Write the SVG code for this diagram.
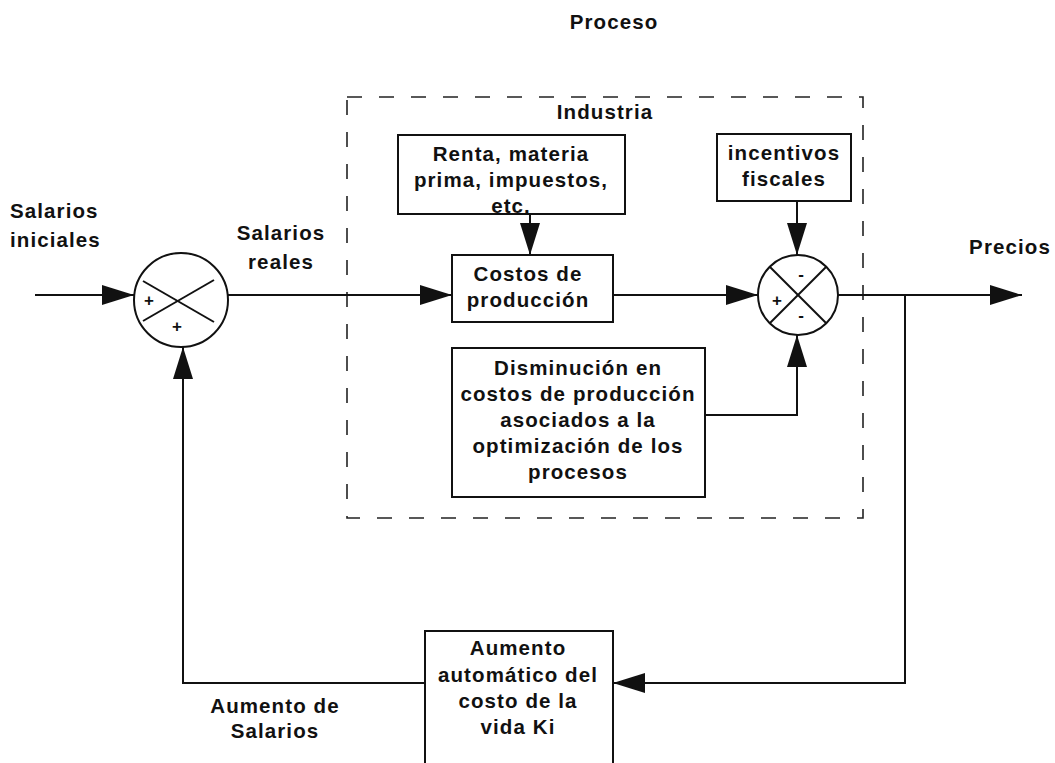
<svg xmlns="http://www.w3.org/2000/svg" width="1055" height="763" viewBox="0 0 1055 763">
<defs>
<marker id="arr" markerUnits="userSpaceOnUse" markerWidth="32" markerHeight="20" refX="32" refY="10" orient="auto">
<path d="M0,0 L32,10 L0,20 z" fill="#111"/>
</marker>
<style>
.t{font-family:"Liberation Sans",Arial,sans-serif;font-weight:bold;font-size:20.5px;fill:#111;text-anchor:middle;letter-spacing:1.1px}
.s{font-family:"Liberation Sans",Arial,sans-serif;font-weight:bold;font-size:17px;fill:#111;text-anchor:middle}
.box{fill:#fff;stroke:#111;stroke-width:2}
.ln{fill:none;stroke:#111;stroke-width:2}
.ar{fill:none;stroke:#111;stroke-width:2;marker-end:url(#arr)}
</style>
</defs>
<rect width="1055" height="763" fill="#fff"/>

<g id="industria">
<rect x="347" y="97" width="516" height="421" fill="none" stroke="#222" stroke-width="1.6" stroke-dasharray="15 17"/>
<text class="t" x="605" y="119">Industria</text>
</g>

<text class="t" x="614" y="29">Proceso</text>

<g id="connectors">
<line class="ar" x1="35" y1="295" x2="134" y2="295"/>
<line class="ar" x1="228" y1="295" x2="452" y2="295"/>
<line class="ar" x1="613" y1="295" x2="758" y2="295"/>
<line class="ar" x1="838" y1="295" x2="1022" y2="295"/>
<line class="ar" x1="530" y1="214" x2="530" y2="255"/>
<line class="ar" x1="797" y1="201" x2="797" y2="255"/>
<polyline class="ar" points="705,415 797,415 797,335"/>
<polyline class="ar" points="905,295 905,683 613,683"/>
<polyline class="ar" points="425,683 183,683 183,347"/>
</g>

<g id="sum1">
<circle cx="181" cy="300" r="47" fill="#fff" stroke="#111" stroke-width="2"/>
<line class="ln" x1="143" y1="281" x2="214" y2="322"/>
<line class="ln" x1="143" y1="321" x2="214" y2="280"/>
<text class="s" x="149" y="306">+</text>
<text class="s" x="177" y="332">+</text>
</g>

<g id="sum2">
<circle cx="798" cy="295" r="40" fill="#fff" stroke="#111" stroke-width="2"/>
<line class="ln" x1="770" y1="267" x2="826" y2="323"/>
<line class="ln" x1="770" y1="323" x2="826" y2="267"/>
<text class="s" x="801" y="280">-</text>
<text class="s" x="777" y="306">+</text>
<text class="s" x="801" y="321">-</text>
</g>

<g id="renta">
<rect class="box" x="398" y="135" width="227" height="79"/>
<text class="t" x="511" y="161">Renta, materia</text>
<text class="t" x="511" y="187">prima, impuestos,</text>
<text class="t" x="511" y="213">etc.</text>
</g>

<g id="incentivos">
<rect class="box" x="717" y="134" width="134" height="67"/>
<text class="t" x="784" y="160">incentivos</text>
<text class="t" x="784" y="186">fiscales</text>
</g>

<g id="costos">
<rect class="box" x="452" y="255" width="161" height="67"/>
<text class="t" x="528" y="281">Costos de</text>
<text class="t" x="528" y="307">producción</text>
</g>

<g id="disminucion">
<rect class="box" x="452" y="348" width="253" height="149"/>
<text class="t" x="578" y="375">Disminución en</text>
<text class="t" x="578" y="401">costos de producción</text>
<text class="t" x="578" y="427">asociados a la</text>
<text class="t" x="578" y="453">optimización de los</text>
<text class="t" x="578" y="479">procesos</text>
</g>

<g id="aumento">
<path d="M425,763 V631 H613 V763" fill="#fff" stroke="#111" stroke-width="2"/>
<text class="t" x="518" y="655">Aumento</text>
<text class="t" x="518" y="682">automático del</text>
<text class="t" x="518" y="708">costo de la</text>
<text class="t" x="518" y="734">vida Ki</text>
</g>

<g id="labels">
<text class="t" x="10" y="218" style="text-anchor:start">Salarios</text>
<text class="t" x="10" y="247" style="text-anchor:start">iniciales</text>
<text class="t" x="281" y="240">Salarios</text>
<text class="t" x="281" y="269">reales</text>
<text class="t" x="1010" y="254">Precios</text>
<text class="t" x="275" y="713">Aumento de</text>
<text class="t" x="275" y="738">Salarios</text>
</g>
</svg>
